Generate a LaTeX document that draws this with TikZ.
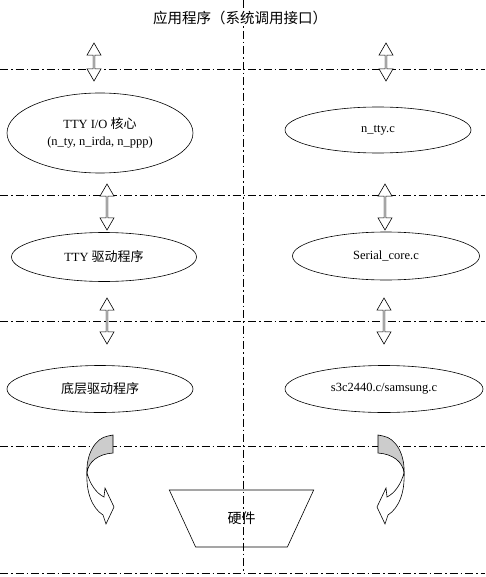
\documentclass[tikz,border=0pt]{standalone}
\usepackage{fontspec}
\setmainfont{Liberation Serif}
\newfontfamily\cjk{Noto Sans CJK SC}
\usetikzlibrary{shapes.geometric,shapes.arrows}
\tikzset{
  layer/.style={draw, ellipse, minimum width=186pt, minimum height=47pt,
                inner sep=0pt, align=center, font=\fontsize{12.5}{17}\selectfont},
  updown/.style={draw, fill=white, double arrow, rotate=90, minimum width=14pt,
                 double arrow head extend=2pt, double arrow tip angle=60, inner sep=0pt},
  sepline/.style={line width=0.6pt, dash pattern=on 8pt off 3pt on 1.5pt off 3pt},
  bendarrow/.pic={
    \draw[fill=white] (-26,37) .. controls (-23,48) and (-17,57) .. (-9,61)
      -- (-8,52) -- (1,71) -- (-7,88) -- (-10,79)
      .. controls (-21,72) and (-27,56) .. (-26,37) -- cycle;
    \draw[fill=gray!40] (-5,0) -- (0,-1) -- (0,17) .. controls (-15,18) and (-25,26) .. (-26,37)
      .. controls (-27,19) and (-18,2) .. (-5,0) -- cycle;
  },
}
\begin{document}
\begin{tikzpicture}[x=1pt, y=-1pt, line width=0.6pt]
  \useasboundingbox (0,0) rectangle (485,577);
  % separators
  \foreach \y in {69,195,321,446,573}
    \draw[sepline] (0,\y) -- (485,\y);
  \draw[sepline] (243,0) -- (243,573);
  % title
  \node[fill=white, inner sep=1pt, font=\cjk\fontsize{14.5}{16}\selectfont] (app) at (240,18) {应用程序（系统调用接口）};
  % left column
  \node[layer, minimum height=80pt] (core) at (100,133) {TTY I/O {\cjk\fontsize{13}{16}\selectfont 核心}\\(n\_ty, n\_irda, n\_ppp)};
  \node[layer, minimum width=185pt, minimum height=49pt] (ttydrv) at (104,257) {TTY {\cjk\fontsize{13}{16}\selectfont 驱动程序}};
  \node[layer] (lowdrv) at (100,389) {\cjk\fontsize{13}{16}\selectfont 底层驱动程序};
  % right column
  \node[layer, minimum height=46pt] (ntty) at (378,130) {n\_tty.c};
  \node[layer, minimum width=187pt, minimum height=48pt] (serial) at (386,256) {Serial\_core.c};
  \node[layer, minimum width=198pt] (samsung) at (384,389) {s3c2440.c/samsung.c};
  % double arrows
  \node[updown, minimum height=38pt] (da1) at (94,62) {};
  \node[updown, minimum height=38pt] (da2) at (386,62) {};
  \node[updown, minimum height=46pt] (da3) at (107,207) {};
  \node[updown, minimum height=46pt] (da4) at (385,207) {};
  \node[updown, minimum height=46pt] (da5) at (107,321) {};
  \node[updown, minimum height=46pt] (da6) at (384,321) {};
  % hardware
  \node[draw, trapezium, shape border rotate=180, trapezium angle=58, trapezium stretches=true,
        minimum width=145pt, minimum height=57pt, inner sep=0pt,
        font=\cjk\fontsize{14}{16}\selectfont] (hw) at (241.5,518.5) {硬件};
  \pic at (113,436) {bendarrow};
  \pic[xscale=-1] at (378,436) {bendarrow};
\end{tikzpicture}
\end{document}
